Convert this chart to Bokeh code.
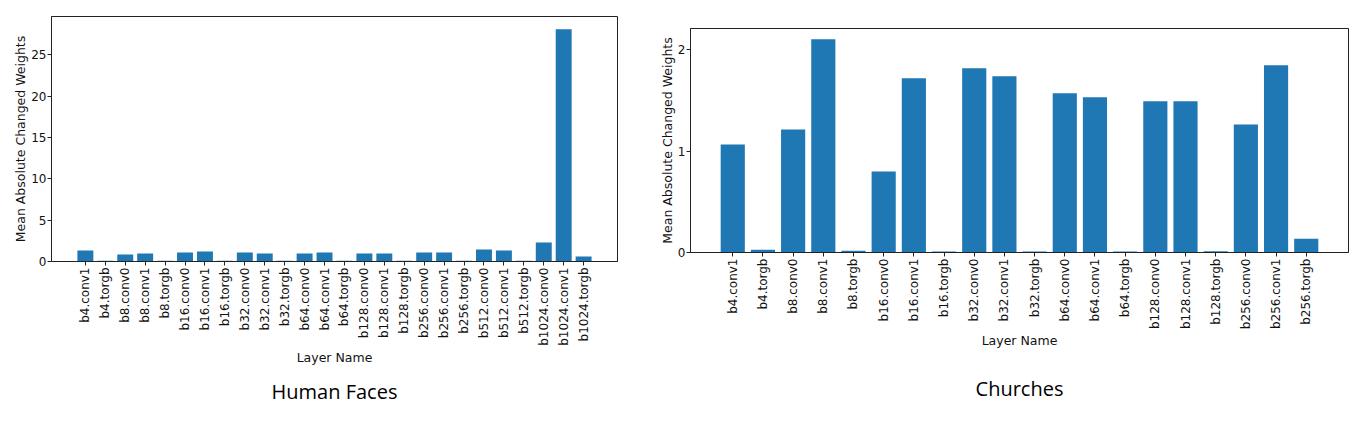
import math
from bokeh.plotting import figure
from bokeh.models import FactorRange, Range1d, FixedTicker, Title, ColumnDataSource, Spacer
from bokeh.layouts import row, column
from bokeh.embed import file_html
from bokeh.resources import INLINE

# ---------------- data ----------------
faces_layers = ["b4.conv1", "b4.torgb", "b8.conv0", "b8.conv1", "b8.torgb",
                "b16.conv0", "b16.conv1", "b16.torgb", "b32.conv0", "b32.conv1",
                "b32.torgb", "b64.conv0", "b64.conv1", "b64.torgb", "b128.conv0",
                "b128.conv1", "b128.torgb", "b256.conv0", "b256.conv1", "b256.torgb",
                "b512.conv0", "b512.conv1", "b512.torgb", "b1024.conv0", "b1024.conv1",
                "b1024.torgb"]
faces_values = [1.33, 0.1, 0.85, 0.97, 0.1, 1.09, 1.21, 0.1, 1.09, 0.97,
                0.1, 0.97, 1.09, 0.1, 0.97, 0.97, 0.1, 1.09, 1.09, 0.1,
                1.45, 1.33, 0.1, 2.30, 28.1, 0.60]
faces_yticks = [0, 5, 10, 15, 20, 25]

church_layers = ["b4.conv1", "b4.torgb", "b8.conv0", "b8.conv1", "b8.torgb",
                 "b16.conv0", "b16.conv1", "b16.torgb", "b32.conv0", "b32.conv1",
                 "b32.torgb", "b64.conv0", "b64.conv1", "b64.torgb", "b128.conv0",
                 "b128.conv1", "b128.torgb", "b256.conv0", "b256.conv1", "b256.torgb"]
church_values = [1.064, 0.027, 1.212, 2.10, 0.017, 0.797, 1.716, 0.01, 1.815, 1.736,
                 0.01, 1.568, 1.529, 0.01, 1.489, 1.489, 0.012, 1.262, 1.845, 0.135]
church_yticks = [0, 1, 2]

y_label = "Mean Absolute Changed Weights"
x_label = "Layer Name"
titles = ["Human Faces", "Churches"]

BAR = "#1f77b4"
TICK_FONT = "DejaVu Sans"


def make(layers, values, yticks, ymax, pad, fw, fh, bl, br, bt,
         title, mls, als, title_standoff):
    p = figure(x_range=FactorRange(factors=layers, range_padding=pad,
                                   range_padding_units="absolute"),
               y_range=Range1d(0, ymax),
               frame_width=fw, frame_height=fh, output_backend="svg",
               toolbar_location=None, min_border_left=bl, min_border_right=br,
               min_border_top=bt, min_border_bottom=10)
    src = ColumnDataSource(dict(x=layers, top=values))
    p.vbar(x="x", top="top", width=0.8, source=src, fill_color=BAR,
           line_color=None)
    p.xgrid.visible = False
    p.ygrid.visible = False
    p.outline_line_color = "#222222"
    p.outline_line_width = 1
    p.background_fill_color = "white"
    p.border_fill_color = "white"

    p.yaxis.ticker = FixedTicker(ticks=yticks)
    p.yaxis.minor_tick_line_color = None
    for ax in (p.xaxis[0], p.yaxis[0]):
        ax.major_tick_in = 0
        ax.major_tick_out = 4
        ax.axis_line_color = "#222222"
        ax.major_tick_line_color = "#222222"
        ax.major_label_text_font = TICK_FONT
        ax.major_label_text_color = "#111111"
        ax.axis_label_text_font = TICK_FONT
        ax.axis_label_text_font_style = "normal"
        ax.axis_label_text_color = "#111111"
        ax.axis_label_text_font_size = "12.5px"
    p.yaxis.major_label_text_font_size = "12px"
    p.yaxis.major_label_standoff = mls
    p.yaxis.axis_label_standoff = als
    p.yaxis.axis_label = y_label
    p.xaxis.major_label_text_font_size = "12px"
    p.xaxis.major_label_orientation = math.pi / 2
    p.xaxis.major_label_standoff = 2
    p.xaxis.axis_label_standoff = 1
    p.xaxis.axis_label = x_label

    t = Title(text=title, align="center", text_font="Open Sans",
              text_font_size="20px", text_font_style="normal",
              text_color="black", standoff=title_standoff)
    p.add_layout(t, "below")
    return p


p1 = make(faces_layers, faces_values, faces_yticks, 29.65, 1.2,
          566, 245, 51, 23, 16, titles[0], 1, 0, 16)
p2 = make(church_layers, church_values, church_yticks, 2.207, 0.9,
          658, 224, 50, 8, 16, titles[1], 1, 0, 42)

layout = row(p1, column(Spacer(height=12, width=716), p2))
open("out.html", "w").write(file_html(layout, INLINE))
